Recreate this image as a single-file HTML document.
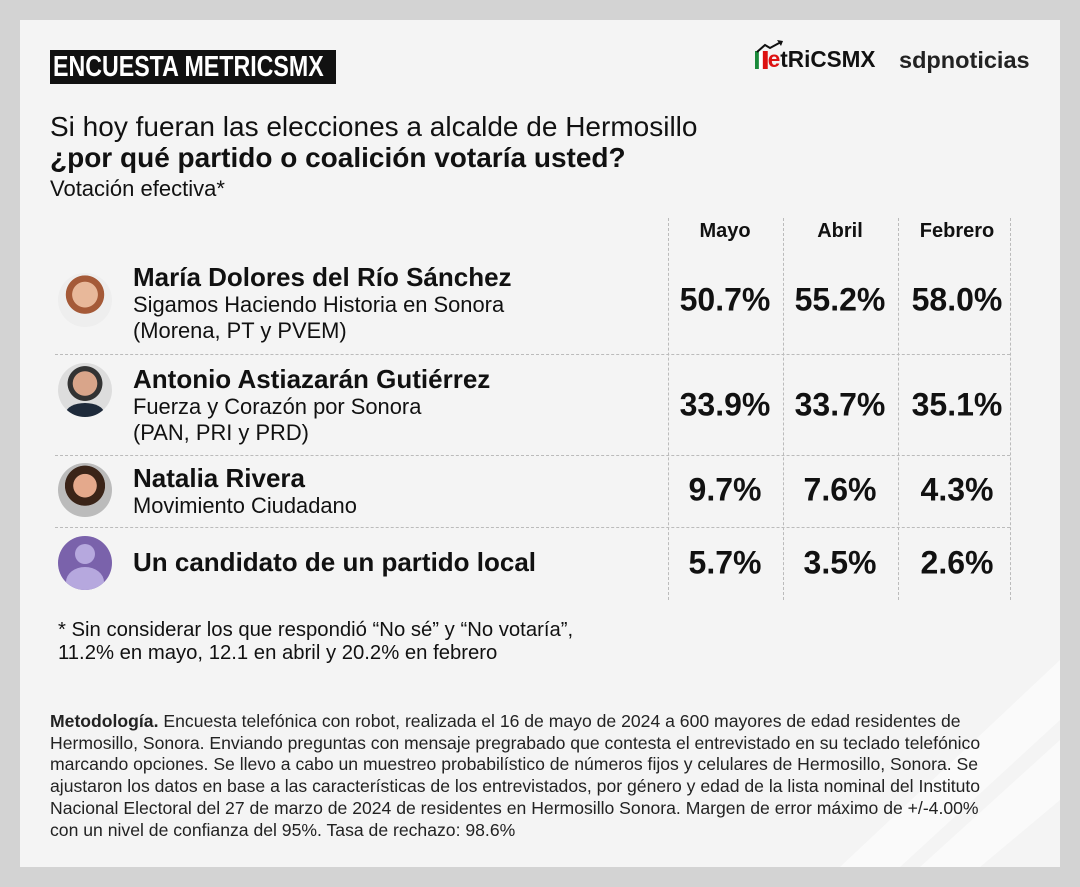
<!DOCTYPE html>
<html><head><meta charset="utf-8">
<style>
*{margin:0;padding:0;box-sizing:border-box}
body{width:1080px;height:887px;background:#d3d3d3;font-family:"Liberation Sans",Arial,sans-serif;position:relative;overflow:hidden;color:#111}
#card{position:absolute;left:20px;top:20px;width:1040px;height:847px;background:#f4f4f4;overflow:hidden}
.a{position:absolute;white-space:nowrap}
.vl{position:absolute;top:218px;height:382px;border-left:1px dashed #bbb;width:0}
.hl{position:absolute;left:55px;width:955px;border-top:1px dashed #bbb;height:0}
.val{position:absolute;font-weight:bold;font-size:32px;transform:translate(-50%,-50%);white-space:nowrap}
.hdr{position:absolute;font-weight:bold;font-size:20px;transform:translateX(-50%);top:220px}
.av{position:absolute;left:58px;width:54px;height:54px;border-radius:50%;overflow:hidden}
.nm{font-weight:bold;font-size:26px;line-height:29px}
.pt{font-size:21.9px;line-height:26px}
</style></head><body>
<div id="card">
<svg class="a" style="left:0;top:0" width="1040" height="847">
<polygon points="1040,640 1040,700 880,847 820,847" fill="#fafafa"/>
<polygon points="1040,720 1040,780 960,847 900,847" fill="#fafafa"/>
</svg>
</div>
<div class="a" style="left:50px;top:50px;width:286px;height:34px;background:#111;"></div>
<div class="a" style="left:53px;top:50px;color:#fff;font-weight:bold;font-size:29px;line-height:34px;transform:scaleX(0.8);transform-origin:0 0">ENCUESTA METRICSMX</div>
<div class="a" style="left:755px;top:46px;font-weight:bold;font-size:23px;transform:scaleX(0.98);transform-origin:0 0">
<span style="display:inline-block;width:4px;height:18px;background:#1a8a3a;vertical-align:-2px"></span><span style="display:inline-block;width:4px;height:18px;background:#fff;vertical-align:-2px"></span><span style="display:inline-block;width:5px;height:18px;background:#d11;vertical-align:-2px"></span><span style="color:#d11">e</span>tRiCSMX</div>
<svg class="a" style="left:755px;top:40px" width="30" height="14"><polyline points="2,12 10,5 15,8 26,2" fill="none" stroke="#111" stroke-width="2"/><polygon points="22,0 28,1 26,6" fill="#111"/></svg>
<div class="a" style="left:899px;top:47px;font-weight:bold;font-size:23.5px;color:#222">sdpnoticias</div>

<div class="a" style="left:50px;top:111px;font-size:28px">Si hoy fueran las elecciones a alcalde de Hermosillo</div>
<div class="a" style="left:50px;top:142px;font-size:28px;font-weight:bold">¿por qué partido o coalición votaría usted?</div>
<div class="a" style="left:50px;top:176px;font-size:22px">Votación efectiva*</div>

<div class="vl" style="left:668px"></div>
<div class="vl" style="left:783px"></div>
<div class="vl" style="left:898px"></div>
<div class="vl" style="left:1010px"></div>
<div class="hl" style="top:354px"></div>
<div class="hl" style="top:455px"></div>
<div class="hl" style="top:527px"></div>

<div class="av" style="top:273px;background:radial-gradient(circle at 50% 40%,#e8b89a 0 30%,#a55a38 31% 45%,#eee 46%)"></div>
<div class="av" style="top:363px;background:radial-gradient(circle at 50% 38%,#d9a58a 0 28%,#333 29% 40%,#ddd 41%)"><div style="position:absolute;left:8px;top:40px;width:38px;height:20px;background:#1e2a3a;border-radius:50% 50% 0 0"></div></div>
<div class="av" style="top:463px;background:radial-gradient(circle at 50% 42%,#e4a98c 0 28%,#3a2418 29% 48%,#bbb 49%)"></div>
<div class="av" style="top:536px;background:#7a62ab">
<div style="position:absolute;left:17px;top:8px;width:20px;height:20px;border-radius:50%;background:#b6a8de"></div>
<div style="position:absolute;left:8px;top:31px;width:38px;height:30px;border-radius:50% 50% 0 0;background:#b6a8de"></div></div>

<div class="a" style="left:133px;top:263px"><div class="nm">María Dolores del Río Sánchez</div><div class="pt">Sigamos Haciendo Historia en Sonora<br>(Morena, PT y PVEM)</div></div>
<div class="a" style="left:133px;top:365px"><div class="nm">Antonio Astiazarán Gutiérrez</div><div class="pt">Fuerza y Corazón por Sonora<br>(PAN, PRI y PRD)</div></div>
<div class="a" style="left:133px;top:464px"><div class="nm">Natalia Rivera</div><div class="pt">Movimiento Ciudadano</div></div>
<div class="a" style="left:133px;top:548px"><div class="nm">Un candidato de un partido local</div></div>

<div id="tbl"></div>

<div class="a" style="left:58px;top:619px;font-size:20.3px;line-height:23px">* Sin considerar los que respondió “No sé” y “No votaría”,<br>11.2% en mayo, 12.1 en abril y 20.2% en febrero</div>
<div class="a" style="left:50px;top:711px;font-size:17.6px;line-height:21.7px;color:#222"><b>Metodología.</b> Encuesta telefónica con robot, realizada el 16 de mayo de 2024 a 600 mayores de edad residentes de<br>Hermosillo, Sonora. Enviando preguntas con mensaje pregrabado que contesta el entrevistado en su teclado telefónico<br>marcando opciones. Se llevo a cabo un muestreo probabilístico de números fijos y celulares de Hermosillo, Sonora. Se<br>ajustaron los datos en base a las características de los entrevistados, por género y edad de la lista nominal del Instituto<br>Nacional Electoral del 27 de marzo de 2024 de residentes en Hermosillo Sonora. Margen de error máximo de +/-4.00%<br>con un nivel de confianza del 95%. Tasa de rechazo: 98.6%</div>

<script>
const months = ["Mayo", "Abril", "Febrero"];
const candidates = ["María Dolores del Río Sánchez", "Antonio Astiazarán Gutiérrez", "Natalia Rivera", "Un candidato de un partido local"];
const mayo = [50.7, 33.9, 9.7, 5.7];
const abril = [55.2, 33.7, 7.6, 3.5];
const febrero = [58.0, 35.1, 4.3, 2.6];
const series = [mayo, abril, febrero];
const colX = [725, 840, 957];
const rowY = [300, 405, 490, 563];
const tbl = document.getElementById('tbl');
months.forEach((m, j) => {
  const h = document.createElement('div');
  h.className = 'hdr';
  h.style.left = colX[j] + 'px';
  h.textContent = m;
  
  
  tbl.appendChild(h);
  series[j].forEach((v, i) => {
    const d = document.createElement('div');
    d.className = 'val';
    d.style.left = colX[j] + 'px';
    d.style.top = rowY[i] + 'px';
    d.textContent = v.toFixed(1) + '%';
    
    
    tbl.appendChild(d);
  });
});
</script>
</body></html>
